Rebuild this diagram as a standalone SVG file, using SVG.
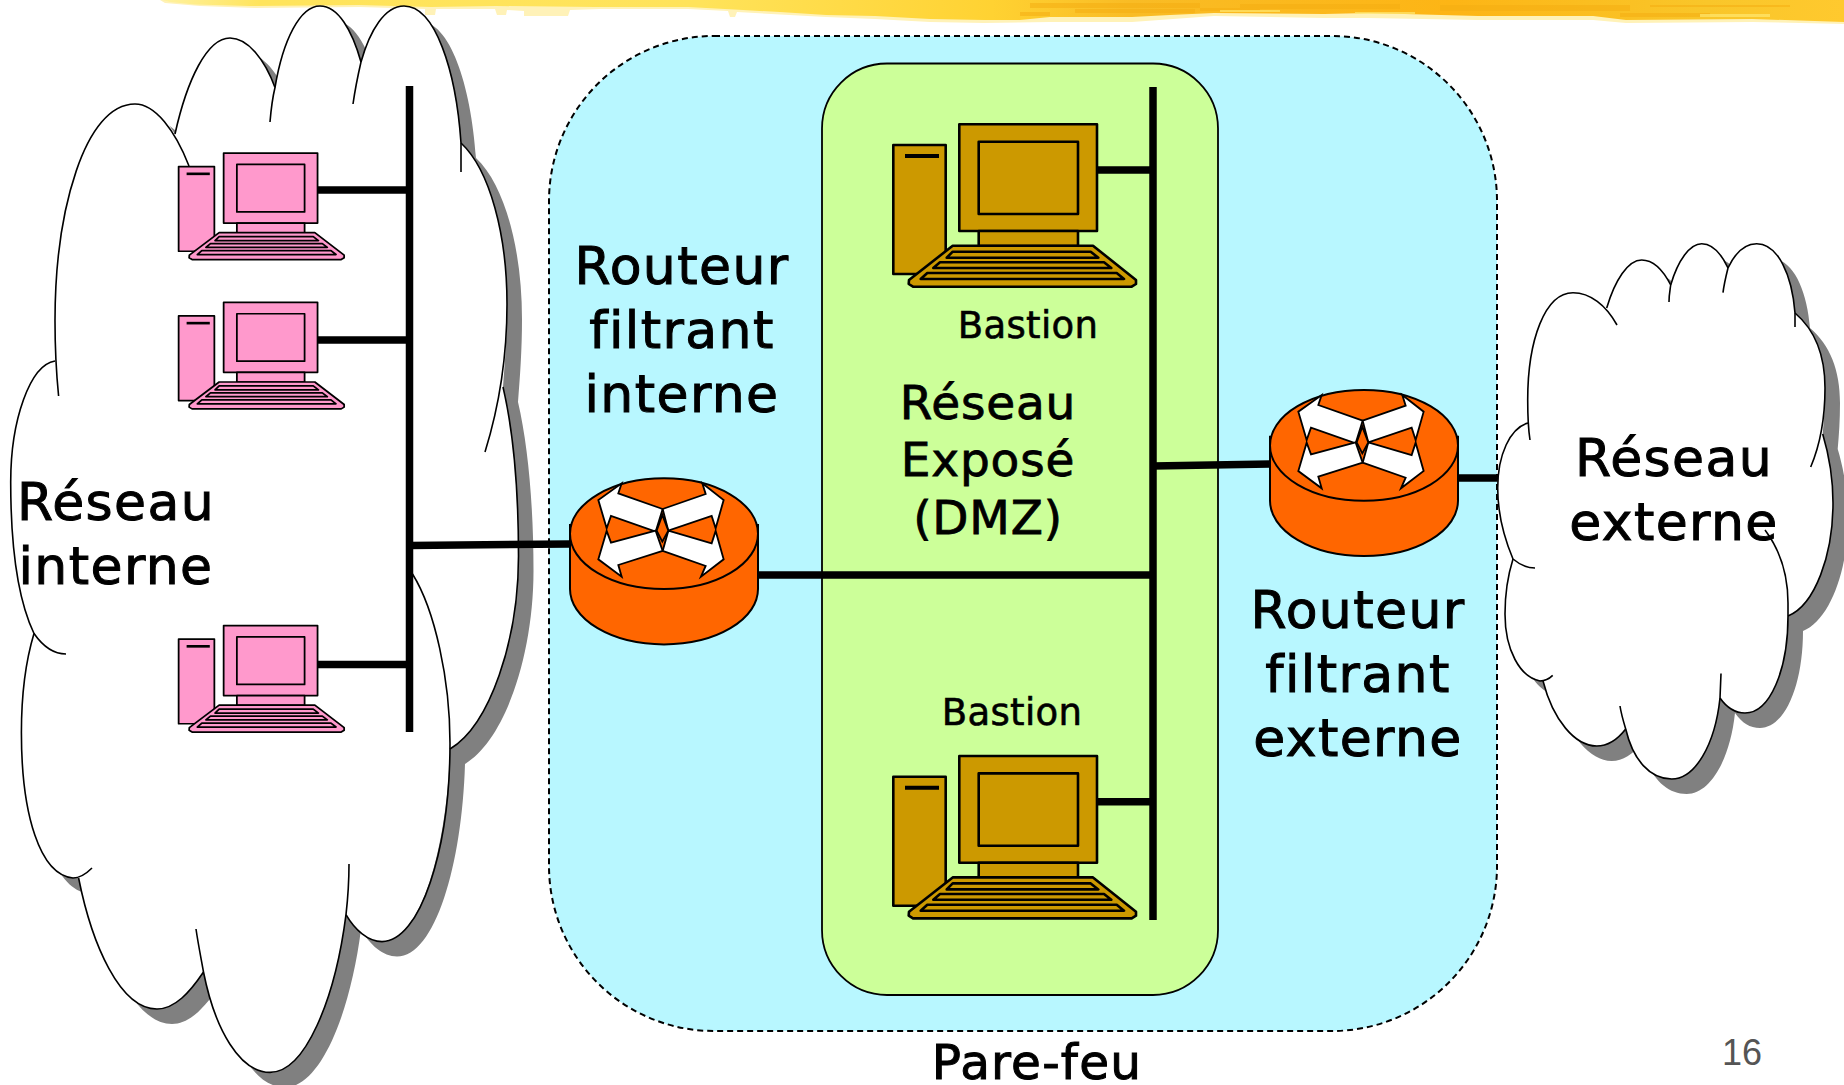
<svg xmlns="http://www.w3.org/2000/svg" xmlns:xlink="http://www.w3.org/1999/xlink" width="1844" height="1085" viewBox="0 0 1844 1085">
<style>
text{font-family:"DejaVu Sans","Liberation Sans",sans-serif;fill:#000;text-anchor:middle}
.big{font-size:52px;letter-spacing:1.4px;stroke:#000;stroke-width:1px}
.foot{font-size:48.5px;letter-spacing:1.2px;stroke:#000;stroke-width:1px}
.mid{font-size:47px;letter-spacing:.8px;stroke:#000;stroke-width:.8px}
.small{font-size:37px;letter-spacing:.3px;stroke:#000;stroke-width:.6px}
.num{font-family:"Liberation Sans",sans-serif;font-size:36px;fill:#555;stroke:none}
.arc{fill:none;stroke:#000;stroke-width:1.6}
.sil{fill:#fff}
.shadow{fill:#808080}
.wire{fill:none;stroke:#000;stroke-width:7.5}
.pc *{stroke:#000;stroke-width:2.6;stroke-linejoin:round}
.rt *{stroke:#000;stroke-linejoin:miter}
</style>
<defs>
<linearGradient id="band" gradientUnits="userSpaceOnUse" x1="140" x2="1844" y1="0" y2="0">
<stop offset="0" stop-color="#FFF5B0"/><stop offset=".07" stop-color="#FFE45C"/><stop offset=".33" stop-color="#FFE35A"/><stop offset=".5" stop-color="#FFD232"/><stop offset=".58" stop-color="#F9BC25"/><stop offset=".77" stop-color="#FDB515"/><stop offset=".92" stop-color="#F9C62A"/><stop offset="1" stop-color="#FFC92E"/>
</linearGradient>
<g id="pc" class="pc">
<rect x="893.3" y="145" width="52.4" height="129"/>
<path d="M905,156H939" style="stroke-width:4"/>
<rect x="959.3" y="124.3" width="137.7" height="106.7"/>
<rect x="978.7" y="141.7" width="99.3" height="72.3"/>
<rect x="978.7" y="231" width="99.3" height="15"/>
<polygon points="952.7,245.7 1093,245.7 1136,280 1136,284 1131.7,286.7 913,286.7 908.7,284 909,280"/>
<polygon points="952.7,251.7 1090.7,251.7 1098.3,257.7 946.7,257.7"/>
<polygon points="940,262.3 1104,262.3 1111.3,268 933.3,268"/>
<polygon points="927.3,273 1116.7,273 1124,279 920.7,279"/>
</g>
<g id="router" class="rt">
<path d="M570,525V589A94,55.4 0 0 0 758,589V525Z" fill="#FF6600" stroke-width="2"/>
<ellipse cx="664" cy="533.7" rx="94" ry="55.4" fill="#FF6600" stroke-width="2"/>
<g transform="translate(540 440) scale(.3333)" fill="#fff" stroke-width="5.5">
<polygon points="368,207 235,160 245,130 175,180 200,265 213,228 347,275"/>
<polygon points="368,207 497,162 487,130 551,180 527,265 515,228 385,272"/>
<polygon points="368,333 235,375 245,410 175,358 200,273 213,308 347,272"/>
<polygon points="368,333 497,378 483,410 551,358 527,273 515,310 385,272"/>
<polygon points="367,225 350,272 367,305 385,272" fill="#FF6600"/>
</g>
</g>
</defs>
<rect width="1844" height="1085" fill="#fff"/>
<g id="banner">
<polygon fill="#FFF2B8" points="160,0 165,3 200,6 255,8 360,7 425,9 425,15 435,15 436,9 495,9 497,15 506,15 507,10 524,11 524,16 568,16 570,10 600,9 688,9 728,11 730,17 735,17 737,12 826,17 875,19 930,22 984,23 1050,22 1132,22 1214,16 1324,18 1368,18 1478,20 1593,20 1626,23 1752,22 1844,24 1844,0"/>
<polygon fill="url(#band)" points="162,0 170,2 195,4.500 250,6 359,5 431,7 496,6 595,7 688,7 743,10 780,12 826,15 875,16 930,19 984,20 1020,20 1050,17 1132,17 1170,15 1214,13 1324,14 1368,13 1478,16 1593,16 1626,20 1752,19 1844,22 1844,0"/>
<g fill="#F5AE12" opacity=".55">
<rect x="1030" y="3" width="170" height="5"/><rect x="1075" y="9" width="120" height="4"/><rect x="1240" y="4" width="160" height="5"/><rect x="1440" y="5" width="190" height="6"/><rect x="1620" y="13" width="90" height="4"/><rect x="1650" y="5" width="140" height="2"/><rect x="1200" y="8" width="60" height="3"/><rect x="1020" y="12" width="30" height="4"/>
</g>
<g fill="#FFE870" opacity=".7">
<rect x="1220" y="10" width="60" height="2"/><rect x="1355" y="12" width="60" height="2"/><rect x="1700" y="14" width="70" height="3"/>
</g>
</g>
<g id="cloud-interne">
<path class="shadow" transform="translate(15 15)" d="M55,361L55,321C55,210 85,104 135,104C150,104 164,116 175,134C187,80 207,38 230,38C248,38 265,60 275,87.5C283,40 300,6 320,6C338,6 352,30 361,62C370,30 385,6 404,6C435,6 456,70 461,143C490,170 507,235 507,304C507,335 505,362 503,387C513,430 518.5,490 518.5,556C518.5,640 490,725 450,749C447,850 420,941.6 382,941.6C368,941.6 355,930 346,914.6C335,1000 305,1072.4 270,1072.4C240,1072.4 215,1030 203.5,972C190,992 175,1009 157,1009C120,1009 92,945 78.6,878L73,878C40,875 21.4,815 21.4,732.6C21.4,695 26,660 34,633.5C18,600 10.7,545 10.7,482C10.7,420 30,365 55,361Z"/>
<path class="sil" d="M55,361L55,321C55,210 85,104 135,104C150,104 164,116 175,134C187,80 207,38 230,38C248,38 265,60 275,87.5C283,40 300,6 320,6C338,6 352,30 361,62C370,30 385,6 404,6C435,6 456,70 461,143C490,170 507,235 507,304C507,335 505,362 503,387C513,430 518.5,490 518.5,556C518.5,640 490,725 450,749C447,850 420,941.6 382,941.6C368,941.6 355,930 346,914.6C335,1000 305,1072.4 270,1072.4C240,1072.4 215,1030 203.5,972C190,992 175,1009 157,1009C120,1009 92,945 78.6,878L73,878C40,875 21.4,815 21.4,732.6C21.4,695 26,660 34,633.5C18,600 10.7,545 10.7,482C10.7,420 30,365 55,361Z"/>
<path class="arc" d="M58.6,396C56,370 55,345 55,321C55,210 85,104 135,104C155,104 175,130 189,166"/>
<path class="arc" d="M175,134C187,80 207,38 230,38C248,38 265,60 275,87.5"/>
<path class="arc" d="M270,122C271,110 272,100 275,87.5C283,40 300,6 320,6C338,6 352,30 361,62"/>
<path class="arc" d="M353,104C355,90 358,75 361,62C370,30 385,6 404,6C435,6 456,70 461,143C461,153 461,163 461,172"/>
<path class="arc" d="M461,143C490,170 507,235 507,304C507,360 498,410 485,452"/>
<path class="arc" d="M503,387C513,430 518.5,490 518.5,556C518.5,640 490,725 450,749"/>
<path class="arc" d="M412.5,574C435,610 450,680 450,743C450,850 420,941.6 382,941.6C368,941.6 355,930 346,914.6"/>
<path class="arc" d="M349,864C349,880 348,897 346,914.6C335,1000 305,1072.4 270,1072.4C240,1072.4 215,1030 203.5,972C201,958 198,943 196,929"/>
<path class="arc" d="M203.5,972C190,992 175,1009 157,1009C120,1009 92,945 78.6,878"/>
<path class="arc" d="M92,868C86,874 79,878 73,878C40,875 21.4,815 21.4,732.6C21.4,695 26,660 34,633.5"/>
<path class="arc" d="M66,654C52,654 42,645 34,633.5C18,600 10.7,545 10.7,482C10.7,420 30,365 55,361"/>
<text class="big" x="116" y="520">Réseau</text>
<text class="big" x="116" y="584">interne</text>
</g>
<g id="pare-feu">
<rect x="549" y="36" width="948" height="995" rx="165" ry="165" fill="#B8F7FF" stroke="#000" stroke-width="2" stroke-dasharray="6 4"/>
<text class="foot" x="1037" y="1079">Pare-feu</text>
</g>
<g id="dmz">
<rect x="822" y="63.5" width="396" height="931.5" rx="65" ry="65" fill="#CCFF99" stroke="#000" stroke-width="1.8"/>
<text class="mid" x="988" y="418.500">Réseau</text>
<text class="mid" x="988" y="476">Exposé</text>
<text class="mid" x="988" y="534">(DMZ)</text>
</g>
<g id="connectors">
<path class="wire" d="M409.5,86V732"/>
<path class="wire" d="M1153,87V920"/>
<path class="wire" d="M304,190H409"/>
<path class="wire" d="M304,340H409"/>
<path class="wire" d="M304,664.500H409"/>
<path class="wire" d="M410,545.500L570,544"/>
<path class="wire" d="M758,575H1153"/>
<path class="wire" d="M1153,466L1270,464"/>
<path class="wire" d="M1097,170H1153"/>
<path class="wire" d="M1097,801.700H1153"/>
<path class="wire" d="M1458,478H1500"/>
</g>
<g id="pc-1"><use href="#pc" xlink:href="#pc" fill="#FF99CC" transform="translate(-430.600 71.500) scale(.682 .656)"/></g>
<g id="pc-2"><use href="#pc" xlink:href="#pc" fill="#FF99CC" transform="translate(-430.600 220.800) scale(.682 .656)"/></g>
<g id="pc-3"><use href="#pc" xlink:href="#pc" fill="#FF99CC" transform="translate(-430.600 544) scale(.682 .656)"/></g>
<g id="bastion-1"><use href="#pc" xlink:href="#pc" fill="#CC9900"/><text class="small" x="1028" y="338">Bastion</text></g>
<g id="bastion-2"><use href="#pc" xlink:href="#pc" fill="#CC9900" transform="translate(0 631.700)"/><text class="small" x="1012" y="724.500">Bastion</text></g>
<g id="routeur-interne"><use href="#router" xlink:href="#router"/>
<text class="big" x="682" y="284">Routeur</text><text class="big" x="682" y="348">filtrant</text><text class="big" x="682" y="412">interne</text></g>
<g id="routeur-externe"><use href="#router" xlink:href="#router" transform="translate(700 -88.300)"/>
<text class="big" x="1358" y="628">Routeur</text><text class="big" x="1358" y="692">filtrant</text><text class="big" x="1358" y="756">externe</text></g>
<g id="cloud-externe">
<path class="shadow" transform="translate(15 15)" d="M1528,423L1527.7,400C1527.7,340 1545,292.7 1573,292.7C1585,292.7 1597,298 1606.7,308C1615,280 1628,260 1641.7,260C1653,260 1663,270 1670.7,285C1678,260 1690,243.7 1701.7,243.7C1712,243.7 1721,253 1728,268C1735,253 1745,243.7 1756.7,243.7C1778,243.7 1792,275 1795,313C1815,330 1825,355 1825,388C1825,405 1824,420 1822.7,434C1829,455 1833,480 1833,503C1833,555 1815,605 1788,616C1788,670 1770,713 1745,713C1735,713 1727,708 1720,698C1715,745 1695,779 1671.7,779C1650,779 1633,760 1625.7,729C1618,739 1608,746 1596.7,746C1575,746 1553,720 1543,681C1520,677 1505,650 1505,614C1505,592 1508,575 1513,559C1505,540 1497.7,515 1497.7,488C1497.7,455 1510,428 1528,423Z"/>
<path class="sil" d="M1528,423L1527.7,400C1527.7,340 1545,292.7 1573,292.7C1585,292.7 1597,298 1606.7,308C1615,280 1628,260 1641.7,260C1653,260 1663,270 1670.7,285C1678,260 1690,243.7 1701.7,243.7C1712,243.7 1721,253 1728,268C1735,253 1745,243.7 1756.7,243.7C1778,243.7 1792,275 1795,313C1815,330 1825,355 1825,388C1825,405 1824,420 1822.7,434C1829,455 1833,480 1833,503C1833,555 1815,605 1788,616C1788,670 1770,713 1745,713C1735,713 1727,708 1720,698C1715,745 1695,779 1671.7,779C1650,779 1633,760 1625.7,729C1618,739 1608,746 1596.7,746C1575,746 1553,720 1543,681C1520,677 1505,650 1505,614C1505,592 1508,575 1513,559C1505,540 1497.7,515 1497.7,488C1497.7,455 1510,428 1528,423Z"/>
<path class="arc" d="M1530,440C1528,427 1527.7,413 1527.7,400C1527.7,340 1545,292.7 1573,292.7C1590,292.7 1606,305 1617,325"/>
<path class="arc" d="M1606.7,308C1615,280 1628,260 1641.7,260C1653,260 1663,270 1670.7,285"/>
<path class="arc" d="M1669,302C1669,295 1670,290 1670.7,285C1678,260 1690,243.7 1701.7,243.7C1712,243.7 1721,253 1728,268"/>
<path class="arc" d="M1723,292.7C1724,284 1726,276 1728,268C1735,253 1745,243.7 1756.7,243.7C1778,243.7 1792,275 1795,313L1795,327"/>
<path class="arc" d="M1795,313C1815,330 1825,355 1825,388C1825,420 1820,445 1810.7,467"/>
<path class="arc" d="M1822.7,434C1829,455 1833,480 1833,503C1833,555 1815,605 1788,616"/>
<path class="arc" d="M1765,530C1780,550 1788,575 1788,603L1788,616C1788,670 1770,713 1745,713C1735,713 1727,708 1720,698"/>
<path class="arc" d="M1721,673.500L1720,698C1715,745 1695,779 1671.7,779C1650,779 1633,760 1625.7,729C1623,720 1621,713 1620,706"/>
<path class="arc" d="M1625.7,729C1618,739 1608,746 1596.7,746C1575,746 1553,720 1543,681"/>
<path class="arc" d="M1552.7,675.400C1549,679 1545,681 1540,681C1520,677 1505,650 1505,614C1505,592 1508,575 1513,559"/>
<path class="arc" d="M1535,568C1527,568 1520,565 1513,559C1505,540 1497.7,515 1497.7,488C1497.7,455 1510,428 1528,423"/>
<text class="big" x="1674" y="476">Réseau</text>
<text class="big" x="1674" y="540">externe</text>
</g>
<text class="num" x="1742" y="1065">16</text>
</svg>
